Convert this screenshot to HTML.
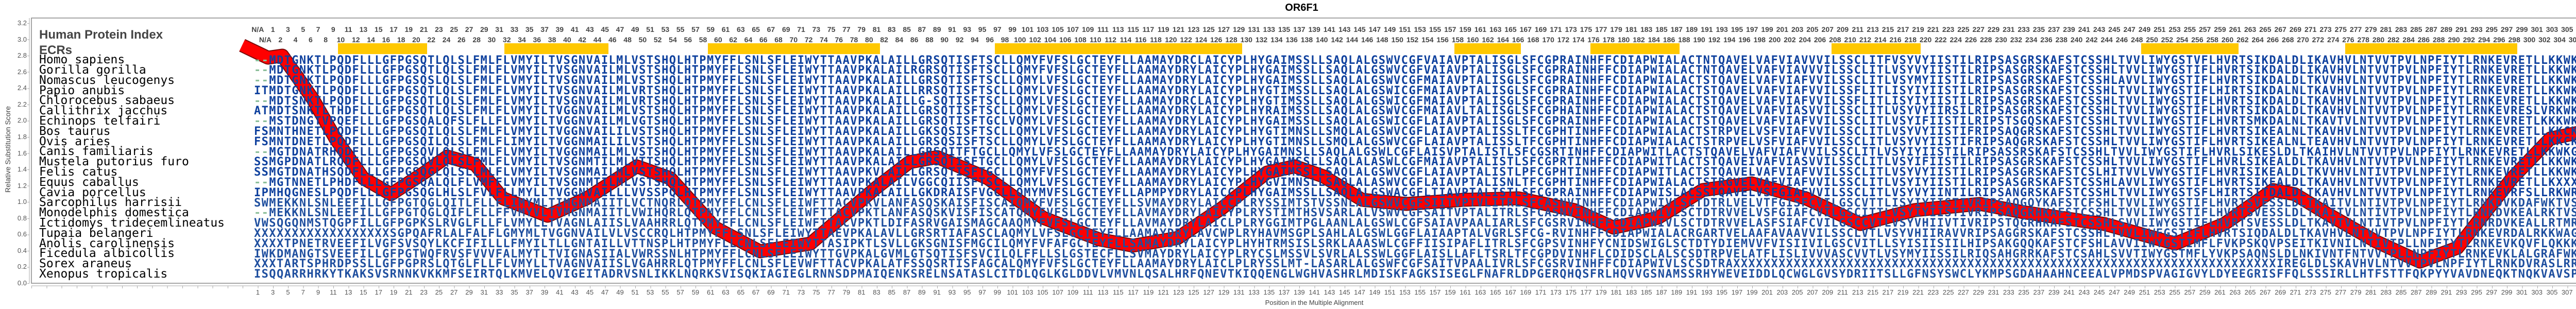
<!DOCTYPE html>
<html><head><meta charset="utf-8"><style>
*{margin:0;padding:0;box-sizing:border-box}
body{width:5053px;height:600px;background:#fff;position:relative;overflow:hidden;font-family:"Liberation Sans",sans-serif}
.abs{position:absolute}
#title{left:0;width:5053px;top:4px;text-align:center;font-weight:bold;font-size:20px;color:#000}
.nums{position:absolute;white-space:nowrap;font-size:14px;font-weight:bold;color:#444;line-height:16px}
.nums span{display:inline-block;width:29.3px;text-align:center;overflow:visible;white-space:nowrap}
.bnums{position:absolute;white-space:nowrap;font-size:13px;color:#555;line-height:15px}
.bnums span{display:inline-block;width:29.3px;text-align:center}
#names{left:76px;top:107.2px;font-family:"DejaVu Sans Mono",monospace;font-size:23px;line-height:19.8px;color:#000;white-space:pre}
#seqs{left:493px;top:107.5px;font-family:"DejaVu Sans Mono",monospace;font-weight:bold;font-size:22px;letter-spacing:1.404px;line-height:19.8px;color:#0f419e;white-space:normal}
#seqs div{white-space:pre;height:19.8px}
#seqs div:nth-child(n+15){color:#1f4f9f}
.g{color:#8cbf9a}
.hdr{left:76px;font-weight:bold;font-size:24px;color:#444}
.yl{position:absolute;font-size:13px;color:#555;line-height:14px;width:40px;text-align:right}
</style></head><body>
<svg class="abs" style="left:0;top:0" width="5053" height="600">
<rect x="61" y="35" width="4981" height="515" fill="none" stroke="#888" stroke-width="1.5"/>
<line x1="57" y1="35" x2="57" y2="550" stroke="#aaa" stroke-width="1"/>
<line x1="61" y1="555" x2="5042" y2="555" stroke="#aaa" stroke-width="1"/>
<g fill="#ffc800">
<rect x="656" y="84" width="173" height="21"/><rect x="979" y="84" width="202" height="21"/>
<rect x="1374" y="84" width="334" height="21"/><rect x="1931" y="84" width="480" height="21"/>
<rect x="2823" y="84" width="129" height="21"/><rect x="3087" y="84" width="173" height="21"/>
<rect x="3555" y="84" width="173" height="21"/><rect x="4156" y="84" width="189" height="21"/>
<rect x="4552" y="84" width="334" height="21"/>
</g>
<g fill="none" stroke-linejoin="round" stroke-linecap="butt">
<polyline stroke="#7a0a0a" stroke-width="27" points="470,88 520,112 548,108 586,162 607,192 651,269 705,346 759,377 824,335 868,304 922,319 976,385 1063,419 1139,385 1236,323 1301,346 1388,442 1475,488 1573,473 1700,365 1765,315 1819,305 1917,346 2025,423 2134,465 2199,477 2286,462 2372,404 2459,335 2513,323 2568,342 2644,388 2730,396 2839,388 2947,385 3056,408 3132,442 3218,423 3305,369 3400,356 3505,385 3611,435 3716,408 3843,396 3927,412 4085,435 4222,473 4317,435 4412,369 4454,377 4517,415 4612,469 4697,508 4770,481 4876,346 4950,269 5042,250"/>
<polyline stroke="#ff0000" stroke-width="23" points="470,88 520,112 548,108 586,162 607,192 651,269 705,346 759,377 824,335 868,304 922,319 976,385 1063,419 1139,385 1236,323 1301,346 1388,442 1475,488 1573,473 1700,365 1765,315 1819,305 1917,346 2025,423 2134,465 2199,477 2286,462 2372,404 2459,335 2513,323 2568,342 2644,388 2730,396 2839,388 2947,385 3056,408 3132,442 3218,423 3305,369 3400,356 3505,385 3611,435 3716,408 3843,396 3927,412 4085,435 4222,473 4317,435 4412,369 4454,377 4517,415 4612,469 4697,508 4770,481 4876,346 4950,269 5042,250"/>
</g>
<text x="20" y="290" transform="rotate(-90 20 290)" text-anchor="middle" font-family="Liberation Sans, sans-serif" font-size="14" fill="#444">Relative Substitution Score</text>
<text x="2551" y="592" text-anchor="middle" font-family="Liberation Sans, sans-serif" font-size="13" fill="#444">Position in the Multiple Alignment</text>
</svg>
<div class="abs" style="left:53px;top:35px;width:4px;height:516px;background:repeating-linear-gradient(to top,#aaa 0 1px,transparent 1px 31.56px)"></div>
<div class="abs" style="left:61px;top:555px;width:4981px;height:5px;background:repeating-linear-gradient(to right,#aaa 0 1px,transparent 1px 29.3px)"></div>
<div id="title" class="abs">OR6F1</div>
<div class="yl" style="top:543px;left:12px">0.0</div><div class="yl" style="top:511.4px;left:12px">0.2</div><div class="yl" style="top:479.9px;left:12px">0.4</div><div class="yl" style="top:448.3px;left:12px">0.6</div><div class="yl" style="top:416.8px;left:12px">0.8</div><div class="yl" style="top:385.2px;left:12px">1.0</div><div class="yl" style="top:353.6px;left:12px">1.2</div><div class="yl" style="top:322.1px;left:12px">1.4</div><div class="yl" style="top:290.5px;left:12px">1.6</div><div class="yl" style="top:259px;left:12px">1.8</div><div class="yl" style="top:227.4px;left:12px">2.0</div><div class="yl" style="top:195.8px;left:12px">2.2</div><div class="yl" style="top:164.3px;left:12px">2.4</div><div class="yl" style="top:132.7px;left:12px">2.6</div><div class="yl" style="top:101.2px;left:12px">2.8</div><div class="yl" style="top:69.6px;left:12px">3.0</div><div class="yl" style="top:38px;left:12px">3.2</div>
<div class="abs hdr" style="top:54px">Human Protein Index</div>
<div class="abs hdr" style="top:84px">ECRs</div>
<div class="nums" style="left:485.7px;top:49px"><span>N/A</span><span>1</span><span>3</span><span>5</span><span>7</span><span>9</span><span>11</span><span>13</span><span>15</span><span>17</span><span>19</span><span>21</span><span>23</span><span>25</span><span>27</span><span>29</span><span>31</span><span>33</span><span>35</span><span>37</span><span>39</span><span>41</span><span>43</span><span>45</span><span>47</span><span>49</span><span>51</span><span>53</span><span>55</span><span>57</span><span>59</span><span>61</span><span>63</span><span>65</span><span>67</span><span>69</span><span>71</span><span>73</span><span>75</span><span>77</span><span>79</span><span>81</span><span>83</span><span>85</span><span>87</span><span>89</span><span>91</span><span>93</span><span>95</span><span>97</span><span>99</span><span>101</span><span>103</span><span>105</span><span>107</span><span>109</span><span>111</span><span>113</span><span>115</span><span>117</span><span>119</span><span>121</span><span>123</span><span>125</span><span>127</span><span>129</span><span>131</span><span>133</span><span>135</span><span>137</span><span>139</span><span>141</span><span>143</span><span>145</span><span>147</span><span>149</span><span>151</span><span>153</span><span>155</span><span>157</span><span>159</span><span>161</span><span>163</span><span>165</span><span>167</span><span>169</span><span>171</span><span>173</span><span>175</span><span>177</span><span>179</span><span>181</span><span>183</span><span>185</span><span>187</span><span>189</span><span>191</span><span>193</span><span>195</span><span>197</span><span>199</span><span>201</span><span>203</span><span>205</span><span>207</span><span>209</span><span>211</span><span>213</span><span>215</span><span>217</span><span>219</span><span>221</span><span>223</span><span>225</span><span>227</span><span>229</span><span>231</span><span>233</span><span>235</span><span>237</span><span>239</span><span>241</span><span>243</span><span>245</span><span>247</span><span>249</span><span>251</span><span>253</span><span>255</span><span>257</span><span>259</span><span>261</span><span>263</span><span>265</span><span>267</span><span>269</span><span>271</span><span>273</span><span>275</span><span>277</span><span>279</span><span>281</span><span>283</span><span>285</span><span>287</span><span>289</span><span>291</span><span>293</span><span>295</span><span>297</span><span>299</span><span>301</span><span>303</span><span>305</span><span>307</span></div>
<div class="nums" style="left:500.3px;top:69px"><span>N/A</span><span>2</span><span>4</span><span>6</span><span>8</span><span>10</span><span>12</span><span>14</span><span>16</span><span>18</span><span>20</span><span>22</span><span>24</span><span>26</span><span>28</span><span>30</span><span>32</span><span>34</span><span>36</span><span>38</span><span>40</span><span>42</span><span>44</span><span>46</span><span>48</span><span>50</span><span>52</span><span>54</span><span>56</span><span>58</span><span>60</span><span>62</span><span>64</span><span>66</span><span>68</span><span>70</span><span>72</span><span>74</span><span>76</span><span>78</span><span>80</span><span>82</span><span>84</span><span>86</span><span>88</span><span>90</span><span>92</span><span>94</span><span>96</span><span>98</span><span>100</span><span>102</span><span>104</span><span>106</span><span>108</span><span>110</span><span>112</span><span>114</span><span>116</span><span>118</span><span>120</span><span>122</span><span>124</span><span>126</span><span>128</span><span>130</span><span>132</span><span>134</span><span>136</span><span>138</span><span>140</span><span>142</span><span>144</span><span>146</span><span>148</span><span>150</span><span>152</span><span>154</span><span>156</span><span>158</span><span>160</span><span>162</span><span>164</span><span>166</span><span>168</span><span>170</span><span>172</span><span>174</span><span>176</span><span>178</span><span>180</span><span>182</span><span>184</span><span>186</span><span>188</span><span>190</span><span>192</span><span>194</span><span>196</span><span>198</span><span>200</span><span>202</span><span>204</span><span>206</span><span>208</span><span>210</span><span>212</span><span>214</span><span>216</span><span>218</span><span>220</span><span>222</span><span>224</span><span>226</span><span>228</span><span>230</span><span>232</span><span>234</span><span>236</span><span>238</span><span>240</span><span>242</span><span>244</span><span>246</span><span>248</span><span>250</span><span>252</span><span>254</span><span>256</span><span>258</span><span>260</span><span>262</span><span>264</span><span>266</span><span>268</span><span>270</span><span>272</span><span>274</span><span>276</span><span>278</span><span>280</span><span>282</span><span>284</span><span>286</span><span>288</span><span>290</span><span>292</span><span>294</span><span>296</span><span>298</span><span>300</span><span>302</span><span>304</span><span>306</span><span>308</span></div>
<div class="bnums" style="left:485.7px;top:560px"><span>1</span><span>3</span><span>5</span><span>7</span><span>9</span><span>11</span><span>13</span><span>15</span><span>17</span><span>19</span><span>21</span><span>23</span><span>25</span><span>27</span><span>29</span><span>31</span><span>33</span><span>35</span><span>37</span><span>39</span><span>41</span><span>43</span><span>45</span><span>47</span><span>49</span><span>51</span><span>53</span><span>55</span><span>57</span><span>59</span><span>61</span><span>63</span><span>65</span><span>67</span><span>69</span><span>71</span><span>73</span><span>75</span><span>77</span><span>79</span><span>81</span><span>83</span><span>85</span><span>87</span><span>89</span><span>91</span><span>93</span><span>95</span><span>97</span><span>99</span><span>101</span><span>103</span><span>105</span><span>107</span><span>109</span><span>111</span><span>113</span><span>115</span><span>117</span><span>119</span><span>121</span><span>123</span><span>125</span><span>127</span><span>129</span><span>131</span><span>133</span><span>135</span><span>137</span><span>139</span><span>141</span><span>143</span><span>145</span><span>147</span><span>149</span><span>151</span><span>153</span><span>155</span><span>157</span><span>159</span><span>161</span><span>163</span><span>165</span><span>167</span><span>169</span><span>171</span><span>173</span><span>175</span><span>177</span><span>179</span><span>181</span><span>183</span><span>185</span><span>187</span><span>189</span><span>191</span><span>193</span><span>195</span><span>197</span><span>199</span><span>201</span><span>203</span><span>205</span><span>207</span><span>209</span><span>211</span><span>213</span><span>215</span><span>217</span><span>219</span><span>221</span><span>223</span><span>225</span><span>227</span><span>229</span><span>231</span><span>233</span><span>235</span><span>237</span><span>239</span><span>241</span><span>243</span><span>245</span><span>247</span><span>249</span><span>251</span><span>253</span><span>255</span><span>257</span><span>259</span><span>261</span><span>263</span><span>265</span><span>267</span><span>269</span><span>271</span><span>273</span><span>275</span><span>277</span><span>279</span><span>281</span><span>283</span><span>285</span><span>287</span><span>289</span><span>291</span><span>293</span><span>295</span><span>297</span><span>299</span><span>301</span><span>303</span><span>305</span><span>307</span><span>309</span><span>311</span></div>
<div id="names" class="abs">Homo sapiens
Gorilla gorilla
Nomascus leucogenys
Papio anubis
Chlorocebus sabaeus
Callithrix jacchus
Echinops telfairi
Bos taurus
Ovis aries
Canis familiaris
Mustela putorius furo
Felis catus
Equus caballus
Cavia porcellus
Sarcophilus harrisii
Monodelphis domestica
Ictidomys tridecemlineatus
Tupaia belangeri
Anolis carolinensis
Ficedula albicollis
Sorex araneus
Xenopus tropicalis</div>
<div id="seqs" class="abs"><div><span class="g">--</span>MDTGNKTLPQDFLLLGFPGSQTLQLSLFMLFLVMYILTVSGNVAILMLVSTSHQLHTPMYFFLSNLSFLEIWYTTAAVPKALAILLGRSQTISFTSCLLQMYFVFSLGCTEYFLLAAMAYDRCLAICYPLHYGAIMSSLLSAQLALGSWVCGFVAIAVPTALISGLSFCGPRAINHFFCDIAPWIALACTNTQAVELVAFVIAVVVILSSCLITFVSYVYIISTILRIPSASGRSKAFSTCSSHLTVVLIWYGSTVFLHVRTSIKDALDLIKAVHVLNTVVTPVLNPFIYTLRNKEVRETLLKKWKGK</div><div><span class="g">--</span>MDTGNKTLPQDFLLLGFPGSQTLQLSLFMLFLVMYILTVSGNVAILMLVSTSHQLHTPMYFFLSNLSFLEIWYTTAAVPKALAILRGRSQTISFTSCLLQMYFVFSLGCTEYFLLAAMAYDRYLAICYPLHYGAIMSSLLSAQLALGSWVCGFVAIAVPTALISGLSFCGPRAINHFFCDIAPWIALACTNTQAVELVAFVIAVVVILSSCLITLVSYVYIISTILRIPSASGRSKAFSTCSSHLTVVLIWYGSTIFLHVRTSIKDALDLIKAVHVLNTVVTPVLNPFIYTLRNKEVRETLLKKWKGK</div><div><span class="g">--</span>MDTGNKTLPQDFLLLGFPGSQSLQLSLFMLFLVMYILTVSGNVAILMLVSTSHQLHTPMYFFLSNLSFLEIWYTTAAVPKALAILLGRSQTISFTSCLLQMYLVFSLGCTEYFLLAAMAYDRYLAICYPLHYGAIMSSLLSAQLALGSWVCGFMAIAVPTALISGLSFCGPRAINHFFCDIAPWIALACTSTQAVELVAFVIAFVVILSSCLITLVSYMYIISTILRIPSASGRSKAFSTCSSHLAVVLIWYGSTIFLHVRTSIKDALDLTKVVHVLNTVVTPVLNPFIYTLRNKEVRETLLKKWKGK</div><div>ITMDTGNKTLPQDFLLLGFPGSQTLQLSLFMLFLVMYILTVSGNVAILMLVRTSHQLHTPMYFFLSNLSFLEIWYTTAAVPKALAILLRRSQTISFTSCLLQMYLVFSLGCTEYFLLAAMAYDRYLAICYPLHYGTIMSSLLSAQLALGSWICGFMAIAVPTALISGLSFCGPRAINHFFCDIAPWIALACTSTQAVELVAFVIAFVVILSSFLITLISYIYIISTILRIPSASGRSKAFSTCSSHLTVVLIWYGSTIFLHIRTSIKDALNLTKAVHVLNTVVTPVLNPFIYTLRNKEVRETLLKKWKGK</div><div><span class="g">--</span>MDTSNKTLPQDFLLLGFPGSQTLQLSLFMLFLVMYILTVSGNVAILMLVRTSHQLHTPMYFFLSNLSFLEIWYTTAAVPKALAILLG-SQTISFTSCLLQMYLVFSLGCTEYFLLAAMAYDRCLAICYPLHYGTIMSSLLSAQLALGSWICGFMAIAVPTALISGLSFCGPRAINHFFCDIAPWIALACTSTQAVELVAFVIAFVVILSSFLITLISYIYIISTILRIPSASGRSKAFSTCSSHLTVVLIWYGSTIFLHVRTSIKDALDLTKAVHVLNTVVTPVLNPFIYTLRNKEVRETLLKKWKGK</div><div>ATMDTSNKTLTHDFLLLGFPGSQTLQLSLFMLFLVMYILTVGGNVAILMLVSTSHQLHTPMYFFLSNLSFLEIWYTTAAVPKALAILLGRSQTISFTSCLLQMYLVFSLGCTEYFLLAAMAYDRYLAICYPLHYRAIMSSLLSAQLALGSWVCGFMAIAVLTALISGLSFCGPHAINHFFCDIAPWIALACTSTQAVELVAFVIASVVILSSCLITLVSYVYIIRSILRIPSASGRSKAFSTCSSHLTVVLIWYGSTIFLHVRTSIKDALDLTKAVHVLNTVVTPVLNPFIYTLRNKEVRESLVRKWKGK</div><div><span class="g">--</span>MSTDNGTVPQEFLLLGFPGSQALQFSLFLLFLVMYILTVGGNVAILMLVGTSHQLHTPMYFFLSNLSFLEIWYTTAAVPKALAILLGRSQTISFTGCLVQMYLVFSLGCTEYFLLAAMAYDRYLAICYPLHYGAIMSSLLSAQLALGSWICGFLAIAVPTALISGLSFCGPRAINHFFCDIAPWIALACTSTQAVELVAFVIAFVVILSSCLITLVSYIFIISTILRIPSTSGQSKAFSTCSSHLTVVLIWYGSTIFLHVRTSMKDALNLTKAVTVLNTVVTPVLNPFIYTLRNKEVRETLKKKWKRK</div><div>FSMNTHNETLPQDFLLLGFPGSQILQLSLFMLFLVMYILTVGGNVAILILVSTSHQLHTPMYFFLSNLSFLEIWYTTAAVPKALAILLGKSQSISFTSCLLQMYLVFSLGCTEYFLLAAMAYDRYLAICYPLHYGTIMNSLLSMQLALGSWVCGFLAIAVPTALISSLTFCGPHTINHFFCDIAPWIALACTSTRPVELVSFVIAFVVILSSCLITLVSYVYIISTIFRIPSAQGRSKAFSTCSSHLTVVLIWYGSTIFLHVRTSIKEALNLTKAVHVLNTVVTPVLNPFIYTLRNKEVRETLLKKCKGK</div><div>FSMNTDNETLPQDFLLLGFPGSQILQLSLFMLFLIMYILTVGGNMAILILVSTSHQLHTPMYFFLSNLSFLEIWYTTAAVPKALAILLGRSQSISFTSCLLQMYLVFSLGCTEYFLLAAMAYDRYLAICYPLHYGTIMNSLLSMQLALGSWVCGFLAIAVPTALISSLTFCGPHTINHFFCDIAPWIALACTSTRPVELVSFVIAFVVILSSCLITLVSYVYIISTIFRIPSAQGRSKAFSTCSSHLTVVLIWYGSTIFLHVRTSIKEALNLTEAVHVLNTVVTPVLNPFIYTLRNKEVRETLLKKCKGK</div><div><span class="g">--</span>MGTDNATRHQDFLLLGFPGSQVLQLSLFMLFLVMYILTVGGNMAILMLVSTSHQLHTPMYFFLSNLSFLEIWYTTAAVPKALAILLGRSQITFTGCLLQMYLVFSLGCTEYFLLAAMAYDRYLAICYPLHYGAIMNSLLSAQLALGSWLCGFLAISVPTALISTLSFCGSRTINHFFCDIAPWITLACTSTQAVELVAFVIAFVVILSSCLITLVSYIYIISTILRIPSASSRSKAFSTCSSHLTVVLIWYGSTIFLHVRLSIKESLDLTKAIHVLNTVVTPVLNPFIYTLRNKEVRETLLKKWKGN</div><div>SSMGPDNATLRQDFLLLGFPGSQVLQLSLFMLFLVMYILTVSGNMTILMLVTTSHQLHTPMYFFLSNLSFLEIWYTTAAVPKALAILLGRSQTISFTGCLLQMYLVFSLGCTEYFLLAAMAYDRYLAICYPLHYGAIMSSLLSAQLALASWLCGFMAIAVPTALISTLSFCGPRTINHFFCDIAPWITLACTSTQAVEIVAFVIASVVILSSCLITLVSYIFIISTILRIPSASGRSKAFSTCSSHLTVVLIWYGSTIFLHVRLSIKEALDLTKAVHVLNTVVTPVLNPFIYTLRNKEVRETLLKKWKXX</div><div>SSMGTDNATHSQDFLLLGFPGSQGLQLSLLMLFLVMYILTVSGNMAILMLVSTSHQLHTPMYFFLSNLSFLEIWYTTAAVPKVLAILLGRSQTISFTGCLLQMYFVFSLGCTEYFLLAAMAYDRYLAICYPLHYGAIMSSLLSAQLALGSWVCGFLAIAVPTALISTLPFCGPHTINHFFCDIAPWITLACTSTQAVELVAFVIAFVVILSSCLITLVSYVYIISTILRIPSASGRSKAFSTCSLHITVVLVWYGSTIFLHVRISIKEALDLTKVVHVLNTIVTPVLNPFIYTLRNKEVRETLLKKWKGK</div><div><span class="g">--</span>MGTNNETLPHDFLLLGFPGSQALQLFLVMFFLVMYILTVSGNMTILMLVSTSHQLHTPMYFFLSNLSFLEIWYTTAAVPKALAILVGGCQIISFTSCLLQMYLVFSLGCTEYFLLAAMAYDRYLAICYPLHYGVIMNSLLSAQLALASWVCGFLAIAVPTALISNLTFCGPHTINHFFCDIAPWIALACTSTRGVELVAFVIAFVVILSSCLITLVSYIYIISTILRIPSASGRSKAFSTCSSHLAVVLIWYGSTIFLHVRTSIKEALDLTKAVHVLNTVVTPVLNPFIYTLRNKEVRETLLKXXXXX</div><div>IPMHQGNESLPQDFLLLGFPGSQGLHLSLFVLFLLMYLLTVGGNVAILLLVVSSPQLHTPMYFFLSNLSFLEIWYTTAAVPKALAILLGKDRAISFVGCLLQMYMVFSLGCTEYFLLAPMPYDRYLAICCPLHYGAIMSSLLSAQLALGSWACGFLTIAVPTALISTLSFCGPRAINHFFCDIAPWISLACSSTQAVELVSFGIAFVVILSSCLITLVSYVYIINTILRIPSANGRSKAFSTCSSHLTVVLIWYGSTSFLHIRTSITDALDLTKAVHVLNTVVTPVLNPFIYTLRNKEVRFSLLRKWRRK</div><div>SWMEKKNLSNLEEFILLGFPGTQGLQITLFLLFLIMYMLTIMGNMAIITLVCTNQRLQTPMYFFLCNLSFLEIWFTTACVPKVLANFASQSKAISFISCAIQMYFVFSLGCTEYFLLSVMAYDRYLAICCPLRYSSIMTSTVSSNLALGSWVCGFSIITVPTVLITRLSFCASNVINHFFCDIAPWIVLSCTDTRLVELVTFGISFCVILGSCVTTLISYIYIISTIVRIPSAQGQYKAFSTCFSHLTVVLIWYGSTIFLHVRTSVESSLDLTKAITVLNTIVTPVLNPFIYTLRNKDVKDAFWKTVSGK</div><div><span class="g">--</span>MEKKNLSNLEEFILLGFPGTQGLQIFLFLLFFVMYVLTVMGNMAIITLVWIHQRLQTPMYFFLCNLSFLEIWFTTACVPKTLANFASQSKVISFISCATQMYFVFSLGCTEYFLLAVMAYDRYLAICYPLRYSTIMTHSVSARLALVSWVCGFSAITVPTALITRLSFCASNVINHFFCDIAPWIVLSCTDTRVVELVSFGIAFCVILGSCITTLVSYIYIISTIVRIPSAQGRHKAFSTCSSHLTVVLIWYGSTIFLHVRTSVESSLDLTKAITVLNTIVTPVLNPFIYTLRNKDVKEALRKTVSAQ</div><div>VWSQGQNMSTQGPFILLGFPGPKSLRVGLFLLFLVMYLLTVAGNLAIISLVAAHRRLQTPMYFFLCNLSFLEIWFTTACVPKTLDIFASRVGAISMAGCAAQMYFVFSLGCTEYFLLAVMAYDRYLAICLPLRYGGIMTPGLAANLALGSWLCGFSAIAVPAALIARLSFCGSRVINHFFCDIAPWIVLSCTDTRVVELASFSIAFCVILGSCCVTLVSYVHIIVTIVRIPSTQGRHRAFSTCSSHLSVVLIWYGSTIFLHVRTSVESSLDLTKAVTVLNTIVTPVLNPFIYTLRNRDVKEALLRTMRGK</div><div>XXXXXXXXXXXXXXXXXXSGPQAFRLALFALFLGMYMLTVGGNVAILVLVSCCRQLHTPMYFFLSNLSFLEIWYTTAEVPKALAVLLGRSRTIAFASCLAQMYLVFSLGCTEYFLLAAMAYDRYLAVCWPLRYHAVMSGPLSAHLALGSWLGGFLAIAAPTALVGRLSFCG-RVINHFFCDIAPWIALACRGARTVELAAFAVAAVVILSSCLVTLVSYVHIIRAVVRIPSAGGRSKAFSTCSSHLTVVLIWFGSTIFLHVRTSIQDALDLTKAVHVLNTVVTPVLNPFIYTLRNKEVRDALRKKWAGX</div><div>XXXXTPNETRVEEFILVGFSVSQYLKCFIFILLLFMYILTLLGNTAILLVTTNSPLHTPMYFLLCNLSFLEIWYTTASIPKTLSVLLGKSGNISFMGCILQMYFVFAFGCTEYFLLSAMAYDRYLAICYPLHYHTRMSISLSRKLAAASWLCGFFIISIPAFLITRLSFCGPSVINHFYCNIDSWIGLSCTDTYDIEMVVFVISIIVILGSCVITLLSYISIISIILHIPSAKGQQKAFSTCFSHLAVVIIWYGSTIMFLFVKPSKQVPSEITKIVNILNTIVTPLLNPFIYTLRNKEVKQVFLQKKKGE</div><div>IWKDMANGTSVEEFILLGFPGTWQFRVSFVVVFALMYTLTVIGNASIIALVWRSSNLHTPMYFFLCNLSFLEIWYTTGVPKALGVMLGTSQTISFSVCILQLFFLLSLGSTECFLLSVMAYDRYLAICYPLRYCSLMSSVLSVRLALSSWLGGFLAISLLAFLTSRLTFCGPDVINHFLCDIDSCLALSCSDTRPVELATFLISLIVVVASCVVTLVSYMYIISSILRIQSAHGRRKAFSTCSAHLSVVTIWYGSTMFLYVKPSAQNSLDLNKIVNTFNTVVTPLLNPFIYTLRNKEVKLALGRAFWKX</div><div>XXXTARTSPHRDPSSLLGFPGPRSLQTGLFLLFLVMYLLTVAGNVAIISLVGAHRRLQTPMYFFLCNLSFLEVWFTTACVPKALATFSSQSRTISFAGCALQMYFVFSLGCTEYFLLAAMAYDRYLAICLPLRYSSLMT-LASARLALGSWFCGFSAITVPAALIVRLSFCGSRVINHFFCDIAPWIVLSCSDTRAXXXXXXXXXXXXXXXXXXXXXXXXXXXXXXXXXXXXXXXXXXXXXXXXXXXXXXXXXXXXXXXXXXXXXXXXIREGLDLSKAVHVLNTVVTPVLNPFIYTLRNKDVRASLRRKFKGR</div><div>ISQQARRHRKYTKAKSVSRNNKVKKMFSEIRTQLKMVELQVIGEITADRVSNLIKKLNQRKSVISQKIAGIEGLRNNSDPMAIQENKSRELNSATASLCITDLQGLKGLDDVLVMVNLQSALHRFQNEVTKIQQENGLWGHVASHRLMDISKFAGKSISEGLFNAFRLDPGERQHQSFRLHQVVGSNAMSSRHYWEVEIDDLQCWGLGVSYDRIITSLLGFNSYSWCLYKMPSGDAHAAHNCEEALVPMDSPVAGIGVYLDYEEGRISFFQLSSSIRLLHTFSTTFQKPYYVAVDNEQKTNQKVAVSPP</div></div>
</body></html>
